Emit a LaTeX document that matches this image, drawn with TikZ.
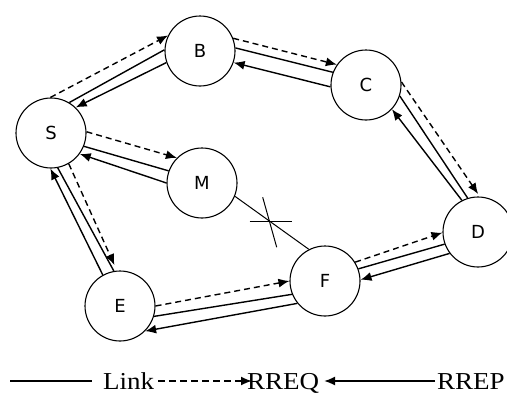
\documentclass[tikz,border=0pt]{standalone}
\usepackage{fontspec}
\setmainfont{Liberation Serif}
\newfontfamily\labelfont{DejaVu Sans}
\usetikzlibrary{arrows.meta,calc}

\tikzset{
  host/.style={circle, draw, line width=1.1pt, minimum size=70pt, inner sep=0pt,
               font=\labelfont\fontsize{18}{18}\selectfont},
  link/.style={line width=1.4pt},
  rreq/.style={line width=1.4pt, dash pattern=on 6pt off 4pt,
               -{Latex[length=11pt,width=9pt]}},
  rrep/.style={line width=1.4pt, -{Latex[length=11pt,width=9pt]}},
  legtext/.style={inner sep=0pt, anchor=base west,
                  font=\fontsize{27}{27}\selectfont},
}

\begin{document}
\begin{tikzpicture}[x=1pt, y=-1pt]
  \useasboundingbox (0,0) rectangle (507,394);

  % hosts
  \node[host] (S) at (51,133)  {S};
  \node[host] (B) at (200,51)  {B};
  \node[host] (C) at (366,85)  {C};
  \node[host] (M) at (202,183) {M};
  \node[host] (D) at (478,232) {D};
  \node[host] (F) at (325,281) {F};
  \node[host] (E) at (120,306) {E};

  % S -- B
  \draw[rreq] (S.91) -- (B.154);
  \draw[link] (S.59) -- (B.178);
  \draw[rrep] (B.199) -- (S.46);

  % B -- C
  \draw[rreq] (B.21) -- (C.145);
  \draw[link] (B.5) -- (C.159);
  \draw[rrep] (C.183) -- (B.-19);

  % C -- D
  \draw[rreq, shorten >=3pt] (C.5) -- (D.87);
  \draw[link] (C.-18) -- (D.107);
  \draw[rrep] (D.117) -- (C.-43);

  % S -- M
  \draw[rreq] (S.2) -- (M.135);
  \draw[link] (S.-22) -- (M.160);
  \draw[rrep] (M.180) -- (S.-36);

  % S -- E
  \draw[rreq, shorten >=6pt] (S.-60) -- (E.95);
  \draw[link] (S.-79) -- (E.100);
  \draw[rrep] (E.119) -- (S.-91);

  % E -- F
  \draw[rreq] (E.0) -- (F.180);
  \draw[link] (E.-17) -- (F.202);
  \draw[rrep] (F.219) -- (E.-45);

  % F -- D
  \draw[rreq] (F.32) -- (D.181);
  \draw[link] (F.20) -- (D.200);
  \draw[rrep] (D.217) -- (F.2);

  % broken link M -- F
  \draw[line width=1pt] (M.-22) -- (F.117);
  \coordinate (cut) at ($(M.-22)!0.47!(F.117)$);
  \draw[line width=1pt] (cut) +(-20,0) -- +(22,0);
  \draw[line width=1pt] (cut) +(-7,-24) -- +(7,26);

  % legend
  \node[legtext] (lk) at (103,389) {\scalebox{1}[0.9]{Link}};
  \node[legtext] (rq) at (247,389) {\scalebox{1}[0.9]{RREQ}};
  \node[legtext] (rp) at (437,389) {\scalebox{1}[0.9]{RREP}};
  \coordinate (l0) at (10,381);
  \coordinate (l1) at (92,381);
  \coordinate (q0) at (158,381);
  \coordinate (q1) at (252,381);
  \coordinate (p0) at (435,381);
  \coordinate (p1) at (324,381);
  \draw[line width=1.6pt] (l0) -- (l1);
  \draw[rreq, line width=1.8pt, dash pattern=on 7pt off 4pt] (q0) -- (q1);
  \draw[rrep, line width=1.8pt] (p0) -- (p1);
\end{tikzpicture}
\end{document}
